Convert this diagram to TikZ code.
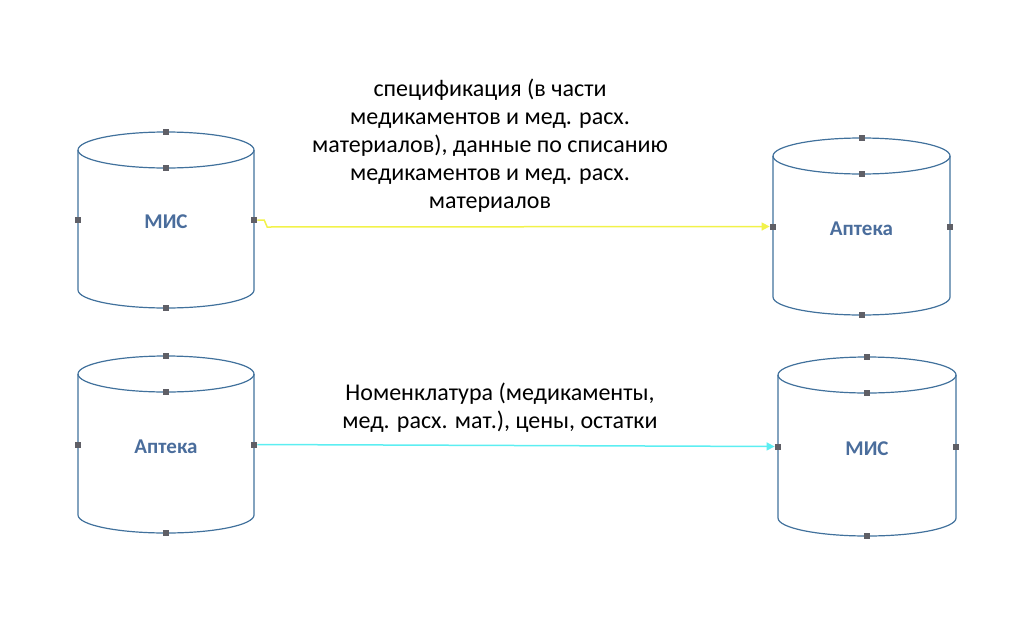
\documentclass[tikz,border=0pt]{standalone}
\usepackage{fontspec}
\setmainfont{Carlito}
\usetikzlibrary{positioning,arrows.meta}
\definecolor{cylblue}{HTML}{41719C}
\definecolor{lblblue}{HTML}{4A6D9C}
\definecolor{hdlgray}{HTML}{5F5F66}
\definecolor{linkyellow}{HTML}{F2F24A}
\definecolor{linkcyan}{HTML}{5CEEF2}
\tikzset{
  cyl/.style={draw=cylblue, line width=1.2pt},
  hdl/.style={fill=hdlgray, draw=none, minimum size=6pt, inner sep=0pt},
  cyllabel/.style={font=\fontsize{21}{24}\selectfont\bfseries, text=lblblue},
  linklabel/.style={font=\fontsize{24}{28}\selectfont, align=center},
}
% cylinder: #1 name, #2 left x, #3 right x, #4 top y, #5 ellipse half height, #6 bottom y, #7 text
\newcommand{\dbcyl}[7]{%
  \draw[cyl] ({(#2+#3)/2},{#4+#5}) ellipse ({(#3-#2)/2} and #5);
  \draw[cyl] (#2,{#4+#5}) -- (#2,{#6-#5}) arc[start angle=180, end angle=360, x radius={(#3-#2)/2}, y radius=-#5] -- (#3,{#4+#5});
  \node[minimum width={#3-#2}, minimum height={#6-#4}, inner sep=0pt] (#1) at ({(#2+#3)/2},{(#4+#6)/2}) {};
  \node[cyllabel] at ({(#2+#3)/2},{(#4+#6)/2+2}) {#7};
  \node[hdl] at (#1.north) {};
  \node[hdl] at ({(#2+#3)/2},{#4+2*#5}) {};
  \node[hdl] (#1-w) at (#1.west) {};
  \node[hdl] (#1-e) at (#1.east) {};
  \node[hdl] at (#1.south) {};
}
\begin{document}
\begin{tikzpicture}[x=1pt, y=-1pt]
  \useasboundingbox (0,0) rectangle (1024,629);
  % Cylinders
  \dbcyl{misA}{78}{254}{132}{18}{308}{МИС}
  \dbcyl{aptA}{773}{950}{138}{18}{315}{Аптека}
  \dbcyl{aptB}{78}{254}{356}{18}{533}{Аптека}
  \dbcyl{misB}{778}{956}{357}{18}{536}{МИС}

  % Connectors
  \draw[linkyellow, line width=1.5pt, -{Triangle[width=8pt,length=8pt]}]
    (misA-e) -- ++(10,0) -- ++(3,7) -- (aptA-w);
  \draw[linkcyan, line width=1.5pt, -{Triangle[width=8pt,length=8pt]}]
    (aptB-e) -- (misB-w);

  % Labels
  \node[linklabel] (specLbl) at (490,146) {спецификация (в части\\медикаментов и мед. расх.\\материалов), данные по списанию\\медикаментов и мед. расх.\\материалов};
  \node[linklabel] (nomLbl) at (500,408) {Номенклатура (медикаменты,\\мед. расх. мат.), цены, остатки};
\end{tikzpicture}
\end{document}
